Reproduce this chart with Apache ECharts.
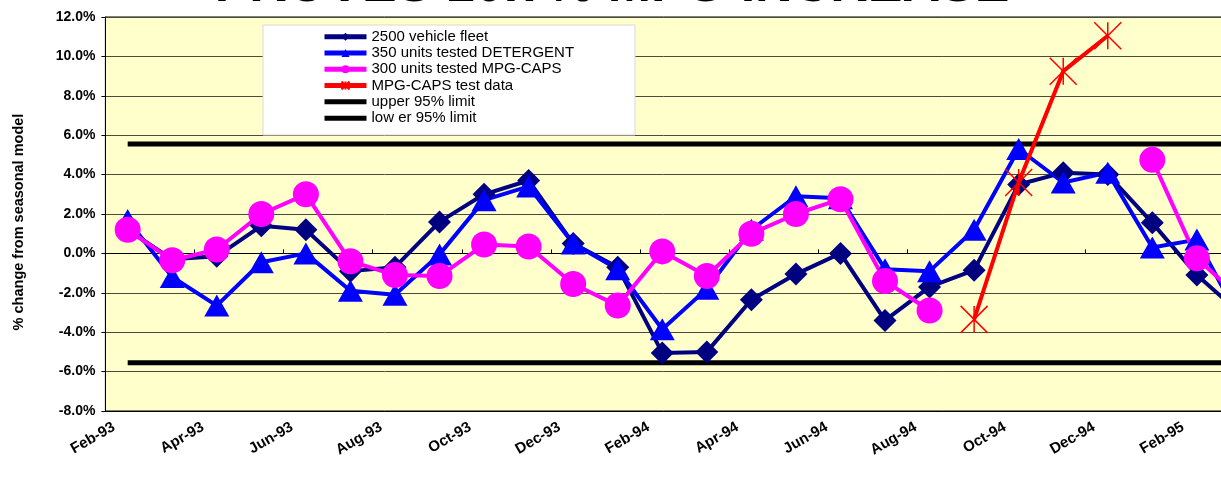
<!DOCTYPE html>
<html>
<head>
<meta charset="utf-8">
<script src="https://cdn.jsdelivr.net/npm/echarts@6/dist/echarts.min.js"></script>
<style>
html,body{margin:0;padding:0;background:#fff;}
#chart{width:1221px;height:484px;}
</style>
</head>
<body>
<div id="chart"></div>
<script>
const titleText = 'PROVES 10.7% MPG INCREASE';
const yAxisName = '% change from seasonal model';
const categories = ['Feb-93','Mar-93','Apr-93','May-93','Jun-93','Jul-93','Aug-93','Sep-93','Oct-93','Nov-93','Dec-93','Jan-94',
  'Feb-94','Mar-94','Apr-94','May-94','Jun-94','Jul-94','Aug-94','Sep-94','Oct-94','Nov-94','Dec-94','Jan-95','Feb-95','Mar-95'];
const seriesNames = ['2500 vehicle fleet','350 units tested DETERGENT','300 units tested MPG-CAPS','MPG-CAPS test data','upper 95% limit','low er 95% limit'];
const fleet = [1.2,-0.3,-0.15,1.4,1.2,-0.9,-0.7,1.6,3.0,3.7,0.5,-0.7,-5.05,-5.0,-2.35,-1.05,0.0,-3.4,-1.7,-0.85,3.5,4.1,4.0,1.55,-1.1,-3.1];
const detergent = [1.7,-1.2,-2.65,-0.45,0.0,-1.9,-2.1,-0.05,2.7,3.4,0.5,-0.8,-3.85,-1.8,1.2,2.9,2.8,-0.8,-0.9,1.2,5.3,3.6,4.1,0.3,0.7,-3.5];
const mpgCaps = [1.2,-0.35,0.2,2.0,3.0,-0.4,-1.1,-1.15,0.45,0.35,-1.55,-2.65,0.1,-1.15,1.0,2.0,2.75,-1.4,-2.9,null,null,null,null,4.75,-0.25,-2.3];
const testData = [null,null,null,null,null,null,null,null,null,null,null,null,null,null,null,null,null,null,null,-3.35,3.6,9.25,11.05,null,null,null];
const upperLimit = [5.55,5.55,5.55,5.55,5.55,5.55,5.55,5.55,5.55,5.55,5.55,5.55,5.55,5.55,5.55,5.55,5.55,5.55,5.55,5.55,5.55,5.55,5.55,5.55,5.55,5.55];
const lowerLimit = [-5.55,-5.55,-5.55,-5.55,-5.55,-5.55,-5.55,-5.55,-5.55,-5.55,-5.55,-5.55,-5.55,-5.55,-5.55,-5.55,-5.55,-5.55,-5.55,-5.55,-5.55,-5.55,-5.55,-5.55,-5.55,-5.55];

const FONT = '"Liberation Sans", Arial, sans-serif';
const chart = echarts.init(document.getElementById('chart'), null, {renderer:'canvas'});
const starPath = 'path://M0,0L20,20M20,0L0,20M10,0L10,20';
const barIcon = 'path://M0,0L42,0L42,5L0,5Z';

const option = {
  animation: false,
  backgroundColor: '#ffffff',
  grid: {
    left: 105.4, top: 17, height: 394, width: 1158.3, right: null,
    outerBoundsMode: 'none', containLabel: false,
    show: true, backgroundColor: '#FFFFCC', borderColor: '#000', borderWidth: 1
  },
  legend: {
    orient: 'vertical', left: 322, top: 28.5,
    itemWidth: 42, itemHeight: 10, itemGap: 0, padding: 0,
    lineStyle: {width: 5},
    data: [
      {name: seriesNames[0]}, {name: seriesNames[1]}, {name: seriesNames[2]}, {name: seriesNames[3]},
      {name: seriesNames[4], icon: barIcon}, {name: seriesNames[5], icon: barIcon}
    ],
    textStyle: {fontFamily: FONT, fontSize: 15, color: '#000', lineHeight: 16.3},
    z: 6
  },
  graphic: [
    {type:'rect', z: 5, shape:{x:263, y:25, width:372, height:110},
     style:{fill:'#ffffff', stroke:'#d8d8d8', lineWidth:1}},
    {type:'text', z: 5, x: 612, y: -13,
     style:{text: titleText, align:'center', verticalAlign:'middle',
      font: 'bold 52px "Liberation Sans", Arial, sans-serif', fill:'#000'}}
  ],
  xAxis: [
    {
      type: 'category', data: categories, boundaryGap: true, position: 'bottom',
      axisLine: {onZero: false, show: true, lineStyle: {color:'#000', width:1}},
      axisTick: {show: false},
      axisLabel: {interval: 1, rotate: 30, margin: 7, padding: [0, 16, 0, 0],
        fontFamily: FONT, fontWeight: 'bold', fontSize: 15, color: '#000'},
      splitLine: {show: false}
    },
    {
      type: 'category', data: categories, boundaryGap: true, position: 'bottom',
      axisLine: {onZero: true, show: true, lineStyle: {color:'#000', width:1}},
      axisTick: {show: true, interval: 1, inside: true, length: 4, lineStyle:{color:'#000'}},
      axisLabel: {show: false},
      splitLine: {show: false}
    }
  ],
  yAxis: {
    type: 'value', min: -8, max: 12, interval: 2,
    name: yAxisName, nameLocation: 'middle', nameGap: 79, nameRotate: 90,
    nameTextStyle: {fontFamily: FONT, fontWeight: 'bold', fontSize: 14.5, color: '#000', padding: [0, 16, 0, 0]},
    axisLine: {show: true, lineStyle: {color:'#000', width:1}},
    axisTick: {show: true, length: 4, lineStyle: {color:'#000'}},
    axisLabel: {margin: 10, fontFamily: FONT, fontWeight: 'bold', fontSize: 14, color: '#000',
      formatter: v => v.toFixed(1) + '%'},
    splitLine: {show: true, lineStyle: {color: '#4a4a3c', width: 1}}
  },
  series: [
    {name: seriesNames[4], type: 'line', data: upperLimit, symbol: 'none', z: 2,
     lineStyle: {color:'#000', width: 5}, itemStyle: {color:'#000'}},
    {name: seriesNames[5], type: 'line', data: lowerLimit, symbol: 'none', z: 2,
     lineStyle: {color:'#000', width: 5}, itemStyle: {color:'#000'}},
    {name: seriesNames[0], type: 'line', data: fleet, symbol: 'diamond', symbolSize: 23, z: 3,
     lineStyle: {color:'#000080', width: 4}, itemStyle: {color:'#000080'}},
    {name: seriesNames[1], type: 'line', data: detergent, symbol: 'triangle', symbolSize: [25, 22], z: 3,
     lineStyle: {color:'#0000FF', width: 4}, itemStyle: {color:'#0000FF'}},
    {name: seriesNames[2], type: 'line', data: mpgCaps, symbol: 'circle', symbolSize: 26, z: 3,
     connectNulls: false,
     lineStyle: {color:'#FF00FF', width: 4}, itemStyle: {color:'#FF00FF'}},
    {name: seriesNames[3], type: 'line', data: testData, symbol: starPath, symbolSize: 27, z: 4,
     lineStyle: {color:'#FF0000', width: 4},
     itemStyle: {color:'rgba(0,0,0,0)', borderColor:'#FF0000', borderWidth: 1.5}}
  ]
};
chart.setOption(option);
</script>
</body>
</html>
